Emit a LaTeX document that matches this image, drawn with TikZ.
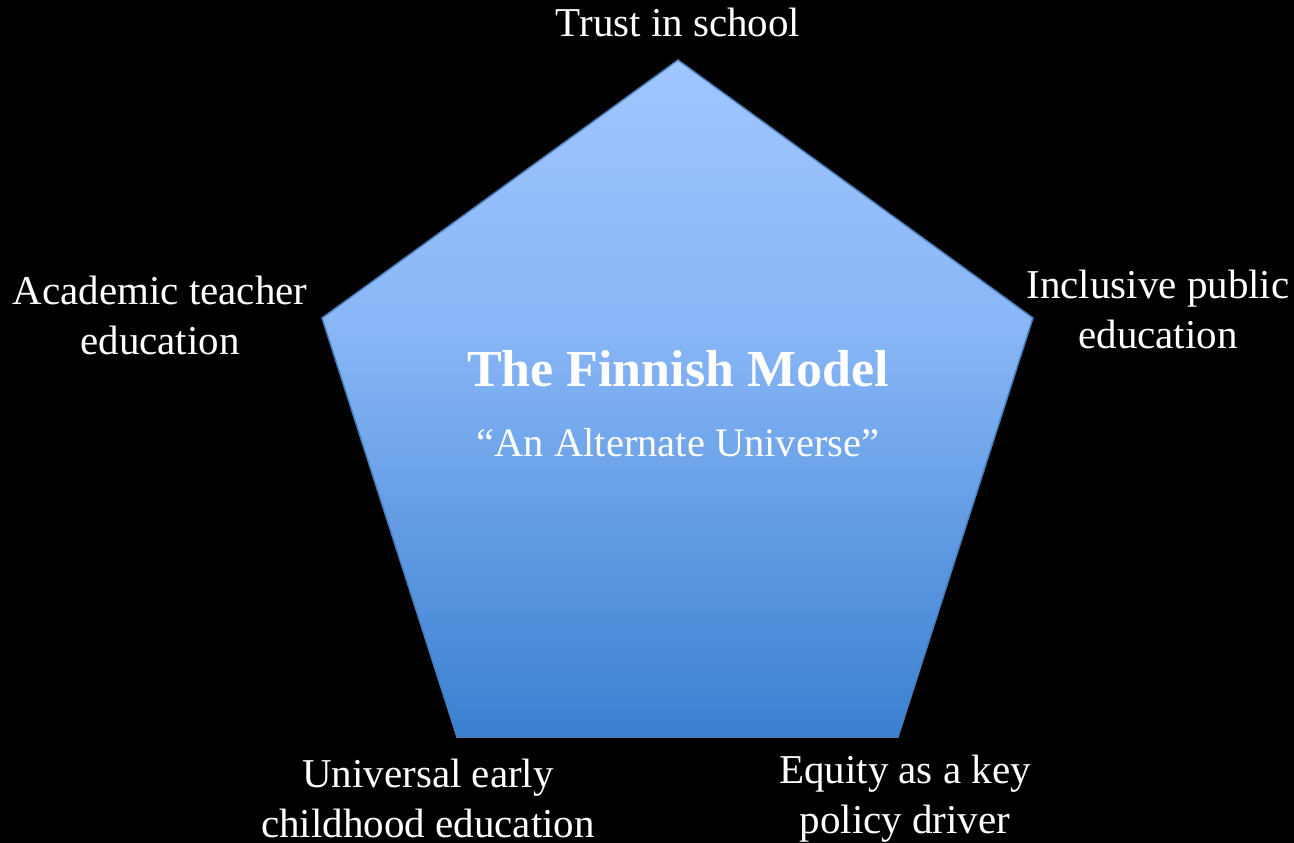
\documentclass[tikz,border=0pt]{standalone}
\usepackage{fontspec}
\setmainfont{Liberation Serif}
\definecolor{topc}{RGB}{160,198,255}
\definecolor{midc}{RGB}{136,182,246}
\definecolor{botc}{RGB}{58,128,208}
\definecolor{edgec}{RGB}{74,126,187}
\pgfdeclareverticalshading{pentshade}{100bp}{color(0bp)=(botc); color(25bp)=(botc); color(55bp)=(midc); color(75bp)=(topc); color(100bp)=(topc)}
\tikzset{
  lbl/.style={text=white, align=center, font=\fontsize{41}{50}\selectfont, inner sep=0pt},
}
\begin{document}
\begin{tikzpicture}[x=1pt,y=-1pt]
\fill[black] (0,0) rectangle (1294,843);
\useasboundingbox (0,0) rectangle (1294,843);
\coordinate (pt) at (678,60);
\coordinate (pr) at (1033,318);
\coordinate (pbr) at (898,737);
\coordinate (pbl) at (457,737);
\coordinate (pl) at (322,318);
\path[shading=pentshade, draw=edgec, line width=1.5pt, line join=miter] (pt) -- (pr) -- (pbr) -- (pbl) -- (pl) -- cycle;
\node[lbl, font=\bfseries\fontsize{52}{60}\selectfont] (title) at (678,369) {The Finnish Model};
\node[lbl, font=\fontsize{40.5}{50}\selectfont] (sub) at (678,443) {``An Alternate Universe''};
\node[lbl] (top) at (678,22) {Trust in school};
\node[lbl] (left) at (160,315) {Academic teacher\\education};
\node[lbl] (right) at (1158,309) {Inclusive public\\education};
\node[lbl] (bl) at (428,798) {Universal early\\childhood education};
\node[lbl] (br) at (905,799) {Equity as a key\\policy driver};
\end{tikzpicture}
\end{document}
